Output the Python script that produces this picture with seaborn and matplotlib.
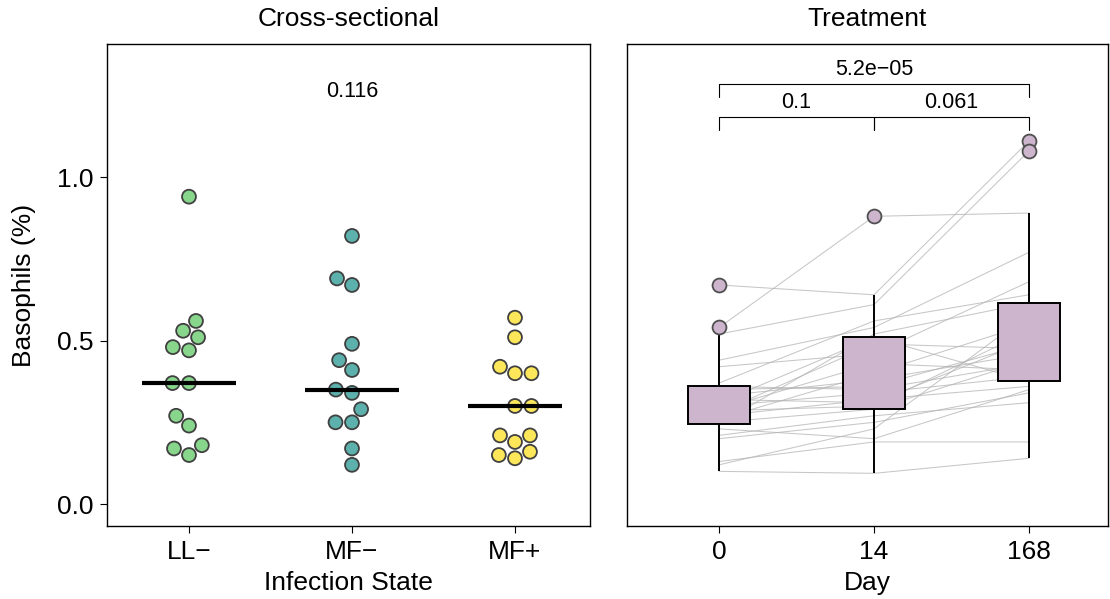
import numpy as np
import pandas as pd
import matplotlib
matplotlib.use("Agg")
import matplotlib.pyplot as plt
import seaborn as sns

# ---- cross-sectional data: basophil % by infection state ----
infection_states = ["LL−", "MF−", "MF+"]
ll_neg = [0.94, 0.56, 0.53, 0.51, 0.48, 0.47, 0.37, 0.37, 0.27, 0.24, 0.18, 0.17, 0.15]
mf_neg = [0.82, 0.69, 0.67, 0.49, 0.44, 0.41, 0.35, 0.34, 0.29, 0.25, 0.25, 0.17, 0.12]
mf_pos = [0.57, 0.51, 0.42, 0.40, 0.40, 0.30, 0.30, 0.21, 0.21, 0.19, 0.16, 0.15, 0.14]
state_colors = ["#88D58C", "#5DB1AD", "#FCE75B"]
kruskal_p = "0.116"

# ---- treatment follow-up: same subjects at day 0, 14, 168 ----
days = ["0", "14", "168"]
day0 = [0.54, 0.67, 0.52, 0.44, 0.42, 0.37, 0.10, 0.12, 0.13, 0.20, 0.21, 0.23, 0.245,
        0.25, 0.26, 0.27, 0.28, 0.285, 0.29, 0.30, 0.31, 0.32, 0.33, 0.35, 0.36]
day14 = [0.88, 0.64, 0.61, 0.54, 0.46, 0.56, 0.094, 0.23, 0.19, 0.25, 0.27, 0.20, 0.52,
         0.29, 0.40, 0.32, 0.49, 0.30, 0.43, 0.34, 0.51, 0.31, 0.38, 0.36, 0.35]
day168 = [0.89, 1.11, 1.08, 0.77, 0.68, 0.64, 0.14, 0.58, 0.19, 0.34, 0.31, 0.35, 0.615,
          0.44, 0.55, 0.36, 0.475, 0.53, 0.41, 0.39, 0.375, 0.50, 0.46, 0.49, 0.43]
pair_tests = [("0", "14", "0.1"), ("14", "168", "0.061"), ("0", "168", "5.2e−05")]
box_color = "#CDB5CD"

sns.set_theme(style="white")
plt.rcParams["font.family"] = ["Liberation Sans", "DejaVu Sans"]
plt.rcParams["text.color"] = "black"
plt.rcParams["axes.labelcolor"] = "black"
plt.rcParams["xtick.color"] = "black"
plt.rcParams["ytick.color"] = "black"

FS = 19
FS_NOTE = 15.5

cs = pd.DataFrame({
    "state": sum([[s] * len(v) for s, v in zip(infection_states, [ll_neg, mf_neg, mf_pos])], []),
    "value": ll_neg + mf_neg + mf_pos,
})

n_subj = len(day0)
tr = pd.DataFrame({
    "subject": list(range(n_subj)) * 3,
    "day": sum([[d] * n_subj for d in days], []),
    "value": day0 + day14 + day168,
})
tr["pos"] = tr["day"].map({d: i for i, d in enumerate(days)})

fig = plt.figure(figsize=(11.1, 5.99), dpi=100)
ax1 = fig.add_axes([0.0964, 0.1219, 0.4351, 0.8047])
ax2 = fig.add_axes([0.5649, 0.1219, 0.4333, 0.8047], sharey=ax1)

# left panel: beeswarm of points plus median bars
sns.swarmplot(data=cs, x="state", y="value", hue="state", order=infection_states,
              hue_order=infection_states, palette=state_colors, size=10,
              edgecolor="#404040", linewidth=1.3, legend=False, ax=ax1, zorder=3)
for i, vals in enumerate([ll_neg, mf_neg, mf_pos]):
    ax1.hlines(np.median(vals), i - 0.29, i + 0.29, color="black", lw=3, zorder=4)
ax1.text(1, 1.263, kruskal_p, ha="center", va="center", fontsize=FS_NOTE)

# right panel: subject trajectories under boxplots
n_before = len(ax2.lines)
sns.lineplot(data=tr, x="pos", y="value", units="subject", estimator=None,
             color="#b4b4b4", lw=0.75, alpha=0.75, ax=ax2, legend=False)
for ln in ax2.lines[n_before:]:
    ln.set_zorder(1)
sns.boxplot(data=tr, x="day", y="value", order=days, color=box_color, saturation=1,
            width=0.4, linecolor="black", linewidth=1.4, showcaps=False,
            medianprops=dict(linewidth=3, color="black"),
            flierprops=dict(marker="o", markersize=10, markerfacecolor=box_color,
                            markeredgecolor="#505050", markeredgewidth=1.3),
            ax=ax2)
for p in ax2.patches:
    p.set_zorder(3)

# significance brackets
top = max(day0 + day14 + day168)
lvl1 = top + 0.073
step = 0.101
tick = 0.039
for a, b, lab in pair_tests:
    xa, xb = days.index(a), days.index(b)
    y = lvl1 if xb - xa == 1 else lvl1 + step
    ax2.plot([xa, xa, xb, xb], [y - tick, y, y, y - tick], color="black", lw=0.8, zorder=5)
    ax2.text((xa + xb) / 2, y + 0.012, lab, ha="center", va="bottom", fontsize=FS_NOTE)

for ax in (ax1, ax2):
    for s in ax.spines.values():
        s.set_visible(True)
        s.set_color("black")
        s.set_linewidth(1.0)
    ax.tick_params(axis="both", labelsize=FS, length=5, width=0.8, color="black",
                   labelcolor="black", direction="out", bottom=True, left=True, pad=5)

ax1.set_xlim(-0.503, 2.46)
ax2.set_xlim(-0.594, 2.51)
ax1.set_ylim(-0.067, 1.407)
ax1.set_yticks([0.0, 0.5, 1.0], ["0.0", "0.5", "1.0"])
ax2.set_xticks(range(len(days)), days)
ax2.tick_params(axis="y", left=False, labelleft=False)

ax1.set_title("Cross-sectional", fontsize=FS, pad=13)
ax2.set_title("Treatment", fontsize=FS, pad=13)
ax1.set_xlabel("Infection State", fontsize=FS, labelpad=5)
ax2.set_xlabel("Day", fontsize=FS, labelpad=5)
ax1.set_ylabel("Basophils (%)", fontsize=FS, labelpad=15)
ax2.set_ylabel("")

fig.savefig("out.png", dpi=100)
